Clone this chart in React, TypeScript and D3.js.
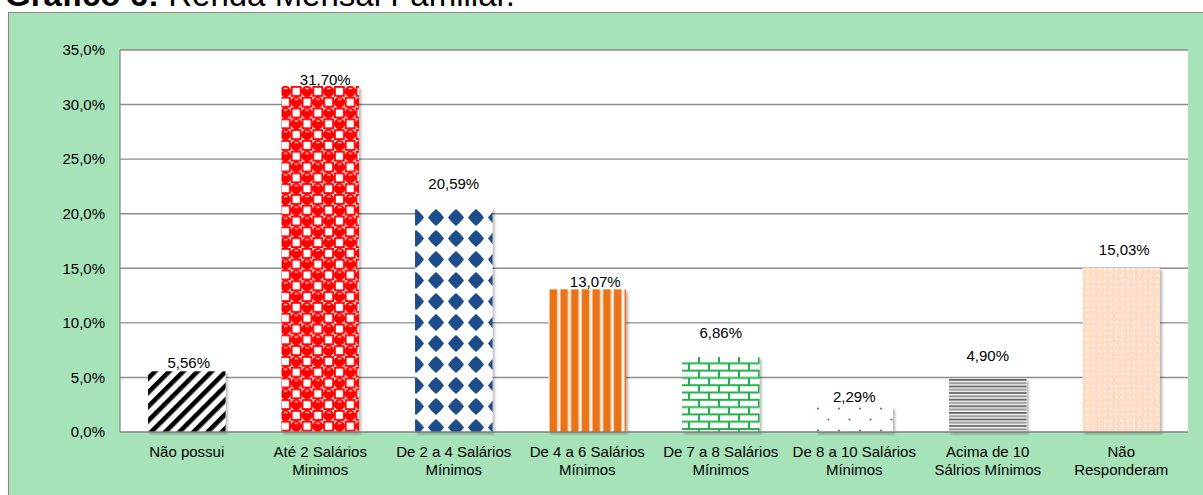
import React from "react";
import * as d3 from "d3";

const categories: string[][] = [
  ["Não possui"],
  ["Até 2 Salários", "Minimos"],
  ["De 2 a 4 Salários", "Mínimos"],
  ["De 4 a 6 Salários", "Mínimos"],
  ["De 7 a 8 Salários", "Mínimos"],
  ["De 8 a 10 Salários", "Mínimos"],
  ["Acima de 10", "Sálrios Mínimos"],
  ["Não", "Responderam"],
];
const values: number[] = [5.56, 31.7, 20.59, 13.07, 6.86, 2.29, 4.9, 15.03];
const valueLabels: string[] = ["5,56%", "31,70%", "20,59%", "13,07%", "6,86%", "2,29%", "4,90%", "15,03%"];
const yTicks: number[] = [0, 5, 10, 15, 20, 25, 30, 35];
const yTickLabels: string[] = ["0,0%", "5,0%", "10,0%", "15,0%", "20,0%", "25,0%", "30,0%", "35,0%"];

// label placement tweaks (annotation offsets as they appear in the original)
const labelLift = [9, 6, 24, 8, 24, 10, 23, 18];
const labelShift = [2, 5, 0, 8, 0, 0, 0, 3];
const patternIds = ["pStripe", "pRed", "pDiamond", "pOrange", "pBrick", "pDots", "pGray", "pPeach"];

const FONT = "'Liberation Sans', Arial, sans-serif";

export default function App() {
  const W = 1203, H = 495;
  const plot = { left: 120, right: 1188, top: 50, bottom: 432 };
  const x = d3.scaleBand<number>().domain(d3.range(values.length)).range([plot.left, plot.right]).paddingInner(0.42).paddingOuter(0.21);
  const y = d3.scaleLinear().domain([0, 35]).range([plot.bottom, plot.top]);

  return (
    <svg width={W} height={H} style={{ position: "absolute", left: 0, top: 0 }} fontFamily={FONT}>
      <defs>
        <filter id="shadow" x="-20%" y="-20%" width="140%" height="140%">
          <feDropShadow dx="2" dy="2" stdDeviation="1.5" floodColor="#000" floodOpacity="0.3" />
        </filter>
        <filter id="soft"><feGaussianBlur stdDeviation="0.5" /></filter>
        <pattern id="pStripe" patternUnits="userSpaceOnUse" width="10" height="10" patternTransform="rotate(45)">
          <rect width="10" height="10" fill="#fff" />
          <rect x="0" width="4.6" height="10" fill="#000" filter="url(#soft)" />
        </pattern>
        <pattern id="pRed" patternUnits="userSpaceOnUse" width="21.6" height="21.6" x="280" y="86">
          <rect width="21.6" height="21.6" fill="#fff" />
          <rect x="10.8" y="0" width="10.8" height="10.8" fill="#f00" />
          <rect x="0" y="10.8" width="10.8" height="10.8" fill="#f00" />
          <rect x="12.6" y="1.8" width="7.2" height="7.2" fill="#fff" />
          <rect x="1.8" y="12.6" width="7.2" height="7.2" fill="#fff" />
          <circle cx="5.4" cy="5.4" r="5.6" fill="#f00" />
          <circle cx="16.2" cy="16.2" r="5.6" fill="#f00" />
          <rect x="3.8" y="1.8" width="3.5" height="1.4" fill="#fcc" />
          <rect x="14.6" y="12.6" width="3.5" height="1.4" fill="#fcc" />
        </pattern>
        <pattern id="pDiamond" patternUnits="userSpaceOnUse" width="20" height="21" x="406" y="207">
          <rect width="20" height="21" fill="#fff" />
          <path d="M10,2 Q14.5,5.5 18,10.5 Q14.5,15.5 10,19 Q5.5,15.5 2,10.5 Q5.5,5.5 10,2Z" fill="#1f4e8a" filter="url(#soft)" />
        </pattern>
        <pattern id="pOrange" patternUnits="userSpaceOnUse" width="10.7" height="10" x="550" y="0">
          <rect width="10.7" height="10" fill="#fff" />
          <rect x="0" width="7.2" height="10" fill="#ea7317" />
          <rect x="7.2" width="0.9" height="10" fill="#f6b98a" />
          <rect x="9.8" width="0.9" height="10" fill="#f6b98a" />
        </pattern>
        <pattern id="pBrick" patternUnits="userSpaceOnUse" width="20" height="14.6" x="689" y="357">
          <rect width="20" height="14.6" fill="#fff" />
          <g stroke="#22b24c" strokeWidth="2">
            <line x1="0" y1="6.3" x2="20" y2="6.3" />
            <line x1="0" y1="13.6" x2="20" y2="13.6" />
            <line x1="10" y1="0" x2="10" y2="6.3" />
            <line x1="0" y1="6.3" x2="0" y2="13.6" />
            <line x1="20" y1="6.3" x2="20" y2="13.6" />
          </g>
        </pattern>
        <pattern id="pDots" patternUnits="userSpaceOnUse" width="21" height="22" x="815" y="408">
          <rect width="21" height="22" fill="#fff" />
          <circle cx="3" cy="0.5" r="1.1" fill="#4f73ad" />
          <circle cx="13.5" cy="11.5" r="1.1" fill="#4f73ad" />
          <circle cx="3" cy="22.5" r="1.1" fill="#4f73ad" />
        </pattern>
        <pattern id="pGray" patternUnits="userSpaceOnUse" width="10" height="6.6" x="0" y="379">
          <rect width="10" height="6.6" fill="#f4f4f4" />
          <rect y="0" width="10" height="1.7" fill="#5e5e5e" />
          <rect y="3.3" width="10" height="1.7" fill="#8a8a8a" />
        </pattern>
        <pattern id="pPeach" patternUnits="userSpaceOnUse" width="5.8" height="5.8">
          <rect width="5.8" height="5.8" fill="#fddcc4" />
          <circle cx="2.9" cy="2.9" r="1.1" fill="#fff" opacity="0.85" />
        </pattern>
      </defs>

      {/* title */}
      <text x={5} y={6} fontSize={33} fill="#000">
        <tspan fontWeight="bold">Gráfico 6:</tspan>
        <tspan> Renda Mensal Familiar.</tspan>
      </text>

      {/* outer green box */}
      <rect x={8.5} y={12.5} width={1210} height={500} fill="#a7e3b8" stroke="#8a8a8a" strokeWidth={1} />

      {/* plot area */}
      <rect x={plot.left} y={plot.top} width={plot.right - plot.left} height={plot.bottom - plot.top} fill="#fff" />
      <line x1={plot.left} x2={plot.left} y1={plot.top} y2={plot.bottom} stroke="#8c8c8c" strokeWidth={1.3} />
      {yTicks.map((t, i) => (
        <g key={t}>
          {t > 0 && (
            <line x1={plot.left} x2={plot.right} y1={y(t)} y2={y(t)} stroke="#8c8c8c" strokeWidth={1.4} />
          )}
          <text x={105} y={y(t)} dy="0.35em" textAnchor="end" fontSize={15} fill="#000">
            {yTickLabels[i]}
          </text>
        </g>
      ))}

      {/* bars */}
      {values.map((v, i) => (
        <rect
          key={i}
          x={x(i)}
          y={y(v)}
          width={x.bandwidth()}
          height={y(0) - y(v)}
          fill={`url(#${patternIds[i]})`}
          filter="url(#shadow)"
        />
      ))}

      <line x1={plot.left} x2={plot.right} y1={plot.bottom} y2={plot.bottom} stroke="#808080" strokeWidth={1.6} />

      {/* value labels */}
      {values.map((v, i) => (
        <text
          key={i}
          x={(x(i) as number) + x.bandwidth() / 2 + labelShift[i]}
          y={y(v) - labelLift[i]}
          dy="0.35em"
          textAnchor="middle"
          fontSize={15}
          fill="#000"
        >
          {valueLabels[i]}
        </text>
      ))}

      {/* category labels */}
      {categories.map((lines, i) => (
        <text key={i} x={(x(i) as number) + x.bandwidth() / 2} y={457} textAnchor="middle" fontSize={15} fill="#000">
          {lines.map((l, j) => (
            <tspan key={j} x={(x(i) as number) + x.bandwidth() / 2} dy={j === 0 ? 0 : 18}>
              {l}
            </tspan>
          ))}
        </text>
      ))}
    </svg>
  );
}
